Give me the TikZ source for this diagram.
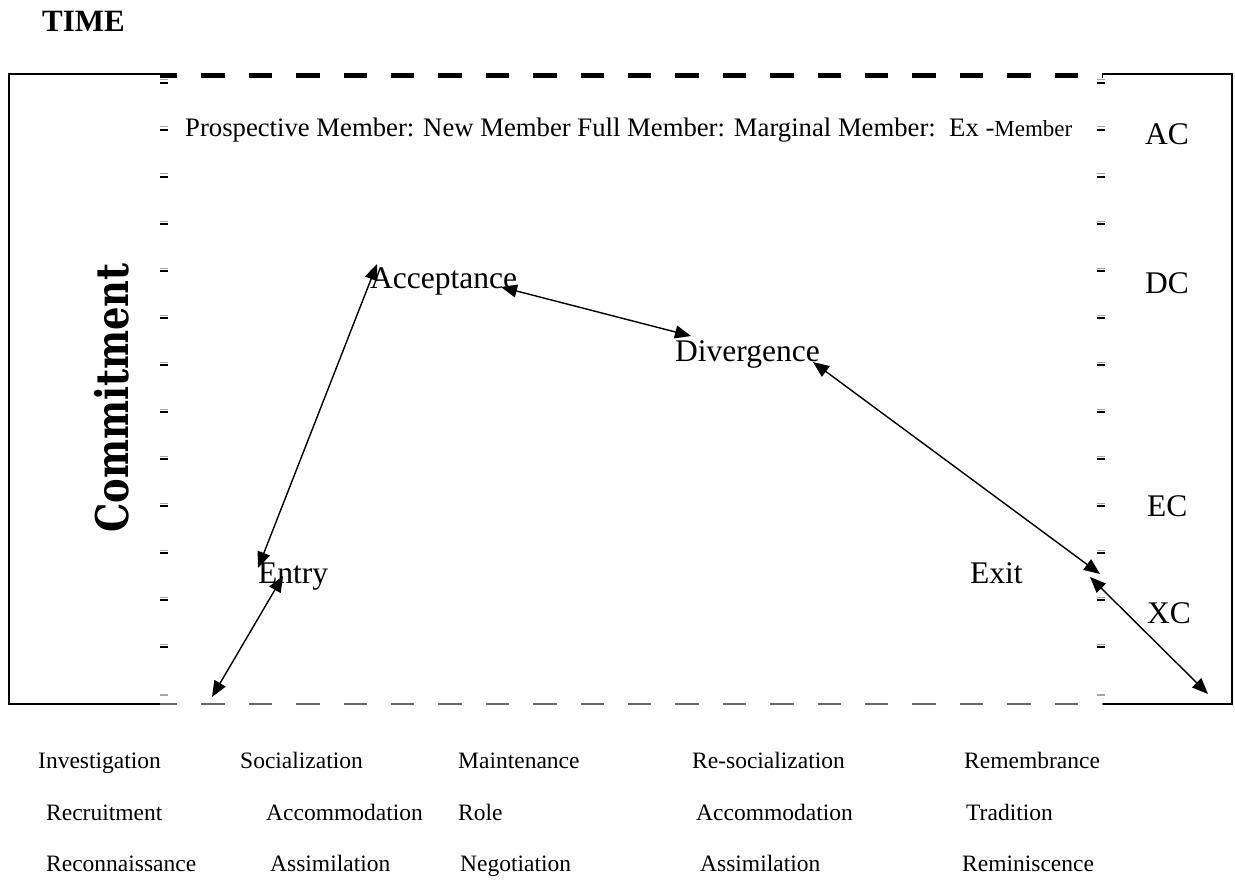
\documentclass[tikz,border=0pt]{standalone}
\usepackage{fontspec}
\setmainfont{Liberation Serif}
\newfontfamily\axisfont[FakeStretch=0.82]{DejaVu Serif}
\usetikzlibrary{arrows.meta}

\begin{document}
\begin{tikzpicture}[x=1pt,y=-1pt,
  frame/.style={line width=2.4pt},
  topdash/.style={line width=5pt, dash pattern=on 23.4pt off 24pt, dash phase=6pt},
  basedash/.style={line width=1.8pt, black!60, dash pattern=on 23.4pt off 24pt, dash phase=6pt},
  tickmark/.style={line width=2.8pt},
  tickshade/.style={line width=1pt, black!35},
  twoway/.style={{Triangle[length=16pt,width=13pt]}-{Triangle[length=16pt,width=13pt]}, line width=1.4pt},
  stage/.style={font=\fontsize{31.5}{36}\selectfont, inner sep=0pt, anchor=base west},
  activity/.style={font=\fontsize{23.5}{27}\selectfont, inner sep=0pt, anchor=base west},
]
\useasboundingbox (0,0) rectangle (1235,880);

% outer frame: solid side pieces, heavy dashed top, light dashed base
\draw[frame] (160,74) -- (9,74) -- (9,704) -- (160,704);
\draw[frame] (1103,74) -- (1232,74) -- (1232,704) -- (1103,704);
\draw[topdash] (160,75.5) -- (1103,75.5);
\draw[basedash] (160,704) -- (1103,704);

% scale ticks on both inner edges
\foreach \ty in {83,130,177,224,271,318,365,412,459,506,553,600,647} {
  \draw[tickshade] (160,\ty-3) -- (168,\ty-3);
  \draw[tickmark] (160,\ty) -- (168,\ty);
  \draw[tickshade] (1097,\ty-3) -- (1105,\ty-3);
  \draw[tickmark] (1097,\ty) -- (1105,\ty);
}
\draw[tickshade, line width=1.6pt] (160,695) -- (168,695);
\draw[tickshade, line width=1.6pt] (1097,695) -- (1105,695);

% titles
\node[inner sep=0pt, anchor=base west, font=\fontsize{31}{36}\selectfont\bfseries] (time) at (42,32) {TIME};
\node[inner sep=0pt, rotate=90, font=\fontsize{45}{50}\selectfont\axisfont\bfseries] (commit) at (112,398) {Commitment};

% membership roles
\node[inner sep=0pt, anchor=base west, font=\fontsize{26.7}{30}\selectfont] (roles) at (185,137)
  {Prospective Member: New Member Full Member: Marginal Member:\ \ Ex -{\fontsize{23}{27}\selectfont Member}};

% stages of the group socialisation curve
\node[stage] (acc) at (370,288) {Acceptance};
\node[stage] (div) at (675,361) {Divergence};
\node[stage] (entry) at (258,583) {Entry};
\node[stage] (exit) at (970,583) {Exit};

% commitment levels
\node[stage] (ac) at (1145,145) {AC};
\node[stage] (dc) at (1145,293) {DC};
\node[stage] (ec) at (1147,516) {EC};
\node[stage] (xc) at (1147,623) {XC};

% arrow ends along the curve
\coordinate (start) at (212,697);
\coordinate (entry-up) at (283,576);
\coordinate (entry-top) at (258,568);
\coordinate (acc-foot) at (377,264);
\coordinate (acc-right) at (501,287);
\coordinate (div-left) at (691,336);
\coordinate (div-right) at (813,362);
\coordinate (exit-in) at (1100,574);
\coordinate (exit-out) at (1090,577);
\coordinate (finish) at (1208,694);

\draw[twoway] (start) -- (entry-up);
\draw[twoway] (entry-top) -- (acc-foot);
\draw[twoway] (acc-right) -- (div-left);
\draw[twoway] (div-right) -- (exit-in);
\draw[twoway] (exit-out) -- (finish);

% activities of each phase
\node[activity] (a11) at (38,768) {Investigation};
\node[activity] (a12) at (240,768) {Socialization};
\node[activity] (a13) at (458,768) {Maintenance};
\node[activity] (a14) at (692,768) {Re-socialization};
\node[activity] (a15) at (964,768) {Remembrance};

\node[activity] (a21) at (46,820) {Recruitment};
\node[activity] (a22) at (266,820) {Accommodation};
\node[activity] (a23) at (458,820) {Role};
\node[activity] (a24) at (696,820) {Accommodation};
\node[activity] (a25) at (966,820) {Tradition};

\node[activity] (a31) at (46,871) {Reconnaissance};
\node[activity] (a32) at (270,871) {Assimilation};
\node[activity] (a33) at (460,871) {Negotiation};
\node[activity] (a34) at (700,871) {Assimilation};
\node[activity] (a35) at (962,871) {Reminiscence};
\end{tikzpicture}
\end{document}
